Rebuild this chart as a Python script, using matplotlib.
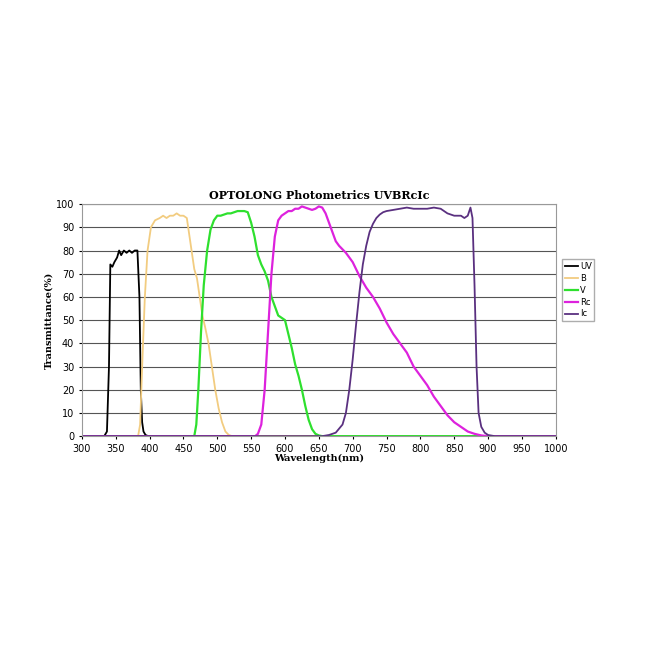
import matplotlib
matplotlib.use("Agg")
import matplotlib.pyplot as plt

uv_x = [300, 333, 337, 340, 342, 345, 348, 352, 355, 358, 362, 366, 370, 374, 378, 382, 385, 387, 389, 391, 394, 398, 402, 1000]
uv_y = [0, 0, 2, 30, 74, 73, 75, 77, 80, 78, 80, 79, 80, 79, 80, 80, 60, 20, 6, 2, 0.5, 0, 0, 0]
b_x = [300, 383, 386, 389, 393, 397, 402, 408, 415, 420, 425, 430, 435, 440, 445, 450, 455, 458, 462, 466, 470, 474, 478, 482, 487, 492, 497, 502, 507, 512, 517, 522, 1000]
b_y = [0, 0, 5, 30, 60, 80, 90, 93, 94, 95, 94, 95, 95, 96, 95, 95, 94, 88, 80, 72, 68, 60, 52, 47, 40, 30, 20, 12, 6, 2, 0.5, 0, 0]
v_x = [300, 466, 469, 472, 476, 480, 485, 490, 495, 500, 505, 510, 515, 520, 530, 540, 545, 550, 555, 560, 565, 570, 575, 580, 585, 590, 595, 600, 605, 610, 615, 620, 625, 630, 635, 640, 645, 650, 655, 660, 1000]
v_y = [0, 0, 5, 20, 45, 65, 80, 89, 93, 95, 95, 95.5, 96, 96, 97, 97, 96.5, 92, 86, 78, 74, 71, 67, 60, 56, 52, 51, 50, 44, 38, 31, 26, 20, 13, 7, 3, 1, 0.3, 0, 0, 0]
rc_x = [300, 556, 560, 565, 570, 575, 580, 585, 590, 595, 600, 605, 610, 615, 620, 625, 630, 635, 640, 645, 650, 655, 660, 665, 670, 675, 680, 690, 700, 710, 720, 730, 740, 750, 760, 770, 780, 790, 800, 810, 820, 830, 840, 850, 860, 870, 880, 890, 900, 1000]
rc_y = [0, 0, 1, 5, 20, 45, 70, 86, 93, 95, 96, 97, 97, 98, 98, 99, 98.5, 98, 97.5, 98, 99, 98.5, 96, 92, 88, 84, 82, 79, 75, 69, 64, 60, 55, 49, 44, 40, 36, 30, 26, 22, 17, 13, 9, 6, 4, 2, 1, 0.3, 0, 0]
ic_x = [300, 655, 665, 675, 685, 690, 695, 700, 705, 710, 715, 720, 725, 730, 735, 740, 745, 750, 760, 770, 780, 790, 800, 810, 820, 830, 840, 850, 860, 865, 870, 874, 877, 880, 883, 886, 890, 895, 900, 910, 1000]
ic_y = [0, 0, 0.5, 1.5, 5, 10, 20, 33, 48, 62, 74, 82, 88, 91.5, 94, 95.5, 96.5, 97, 97.5, 98, 98.5, 98, 98, 98, 98.5, 98, 96, 95, 95, 94, 95, 98.5, 94, 65, 30, 10, 4, 1.5, 0.5, 0, 0]

xticks = list(range(300, 1001, 50))
yticks = list(range(0, 101, 10))

fig = plt.figure(figsize=(6.5, 6.5), dpi=100)
ax = fig.add_axes([0.126, 0.329, 0.729, 0.357])
ax.plot(uv_x, uv_y, color="black", lw=1.3, label="UV")
ax.plot(b_x, b_y, color="#f2cc80", lw=1.3, label="B")
ax.plot(v_x, v_y, color="#2ee02e", lw=1.6, label="V")
ax.plot(rc_x, rc_y, color="#dd22dd", lw=1.6, label="Rc")
ax.plot(ic_x, ic_y, color="#5a3080", lw=1.3, label="Ic")
ax.set_xlim(300, 1000)
ax.set_ylim(0, 100)
ax.set_xticks(xticks)
ax.set_yticks(yticks)
ax.tick_params(labelsize=7, length=2, direction="out")
ax.yaxis.grid(True, color="#555555", lw=0.8)
ax.set_axisbelow(True)
for s in ax.spines.values():
    s.set_color("#999999")
ax.set_xlabel("Wavelength(nm)", fontsize=7, fontweight="bold", family="DejaVu Serif", labelpad=0)
ax.set_ylabel("Transmittance(%)", fontsize=7, fontweight="bold", family="DejaVu Serif", labelpad=2)
ax.set_title("OPTOLONG Photometrics UVBRcIc", fontsize=8, fontweight="bold", family="DejaVu Serif", pad=4)
leg = ax.legend(loc="upper left", bbox_to_anchor=(1.005, 0.78), fontsize=6, frameon=True,
                fancybox=False, handlelength=1.6, borderpad=0.3, labelspacing=0.35, handletextpad=0.2)
leg.get_frame().set_edgecolor("#999999")
fig.savefig("out.png", dpi=100, facecolor="white")
